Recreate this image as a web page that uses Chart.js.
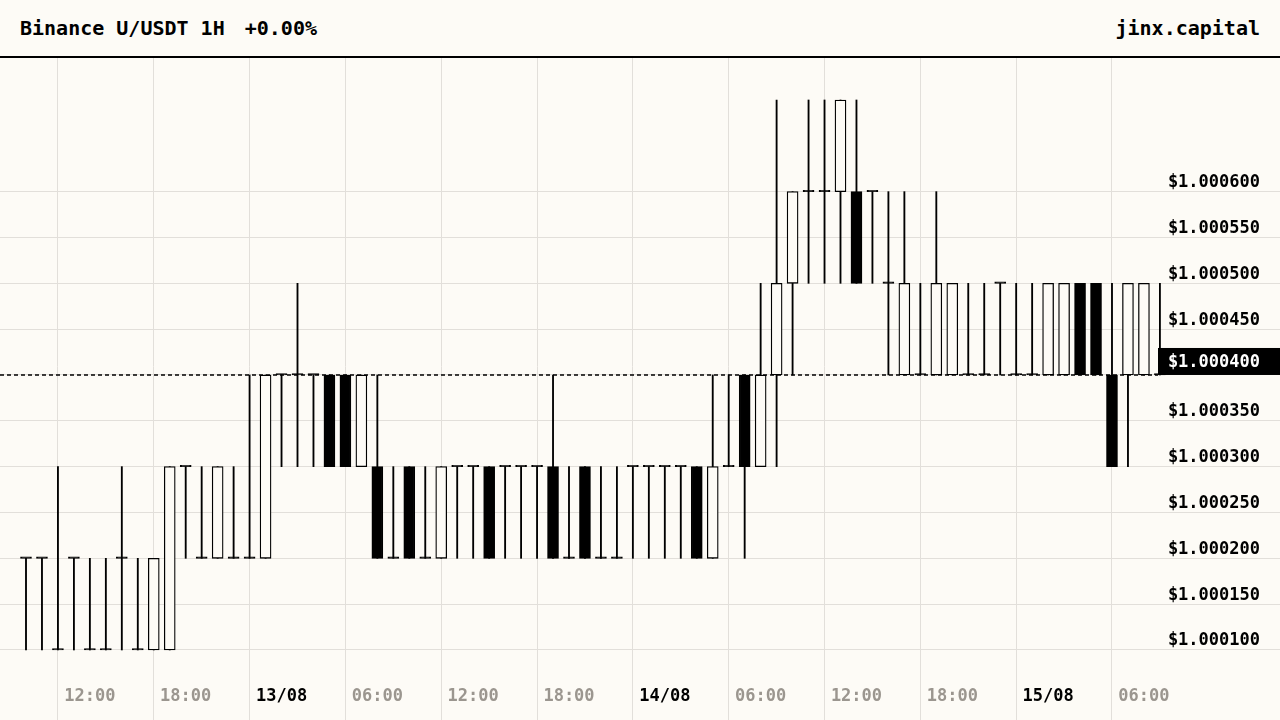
<!DOCTYPE html>
<html>
<head>
<meta charset="utf-8">
<title>Binance U/USDT 1H</title>
<script src="https://cdn.jsdelivr.net/npm/chart.js@4.4.1/dist/chart.umd.min.js"></script>
<style>
  html, body { margin: 0; padding: 0; background: #fdfbf6; }
  body { width: 1280px; height: 720px; overflow: hidden; font-family: 'DejaVu Sans Mono', monospace; }
  .header {
    height: 56px; border-bottom: 2px solid #000; padding: 0 20px;
    display: flex; align-items: center; justify-content: space-between;
    font-size: 20px; font-weight: bold; color: #000; white-space: pre;
  }
  .header .change { margin-left: 8px; }
  .chart-box { position: relative; width: 1280px; height: 662px; }
</style>
</head>
<body>
<div class="header"><span>Binance U/USDT 1H <span class="change">+0.00%</span></span><span>jinx.capital</span></div>
<div class="chart-box"><canvas id="chart"></canvas></div>
<script>
// hourly candles, 12/08 08:00 -> 15/08 07:00
const times = [
  '12/08 08:00', '12/08 09:00', '12/08 10:00', '12/08 11:00', '12/08 12:00', '12/08 13:00', '12/08 14:00', '12/08 15:00',
  '12/08 16:00', '12/08 17:00', '12/08 18:00', '12/08 19:00', '12/08 20:00', '12/08 21:00', '12/08 22:00', '12/08 23:00',
  '13/08 00:00', '13/08 01:00', '13/08 02:00', '13/08 03:00', '13/08 04:00', '13/08 05:00', '13/08 06:00', '13/08 07:00',
  '13/08 08:00', '13/08 09:00', '13/08 10:00', '13/08 11:00', '13/08 12:00', '13/08 13:00', '13/08 14:00', '13/08 15:00',
  '13/08 16:00', '13/08 17:00', '13/08 18:00', '13/08 19:00', '13/08 20:00', '13/08 21:00', '13/08 22:00', '13/08 23:00',
  '14/08 00:00', '14/08 01:00', '14/08 02:00', '14/08 03:00', '14/08 04:00', '14/08 05:00', '14/08 06:00', '14/08 07:00',
  '14/08 08:00', '14/08 09:00', '14/08 10:00', '14/08 11:00', '14/08 12:00', '14/08 13:00', '14/08 14:00', '14/08 15:00',
  '14/08 16:00', '14/08 17:00', '14/08 18:00', '14/08 19:00', '14/08 20:00', '14/08 21:00', '14/08 22:00', '14/08 23:00',
  '15/08 00:00', '15/08 01:00', '15/08 02:00', '15/08 03:00', '15/08 04:00', '15/08 05:00', '15/08 06:00', '15/08 07:00'
];

const open = [
  1.0002, 1.0002, 1.0001, 1.0002, 1.0001, 1.0001, 1.0002, 1.0001, 1.0001, 1.0001, 1.0003, 1.0002,
  1.0002, 1.0002, 1.0002, 1.0002, 1.0004, 1.0004, 1.0004, 1.0004, 1.0004, 1.0003, 1.0003, 1.0002,
  1.0003, 1.0002, 1.0002, 1.0003, 1.0003, 1.0003, 1.0003, 1.0003, 1.0003, 1.0003, 1.0002, 1.0003,
  1.0002, 1.0002, 1.0003, 1.0003, 1.0003, 1.0003, 1.0003, 1.0002, 1.0003, 1.0004, 1.0003, 1.0004,
  1.0005, 1.0006, 1.0006, 1.0006, 1.0006, 1.0006, 1.0005, 1.0004, 1.0004, 1.0004, 1.0004, 1.0004,
  1.0004, 1.0005, 1.0004, 1.0004, 1.0004, 1.0004, 1.0005, 1.0005, 1.0004, 1.0004, 1.0004, 1.0004
];
const high = [
  1.0002, 1.0002, 1.0003, 1.0002, 1.0002, 1.0002, 1.0003, 1.0002, 1.0002, 1.0003, 1.0003, 1.0003,
  1.0003, 1.0003, 1.0004, 1.0004, 1.0004, 1.0005, 1.0004, 1.0004, 1.0004, 1.0004, 1.0004, 1.0003,
  1.0003, 1.0003, 1.0003, 1.0003, 1.0003, 1.0003, 1.0003, 1.0003, 1.0003, 1.0004, 1.0003, 1.0003,
  1.0003, 1.0003, 1.0003, 1.0003, 1.0003, 1.0003, 1.0003, 1.0004, 1.0004, 1.0004, 1.0005, 1.0007,
  1.0006, 1.0007, 1.0007, 1.0007, 1.0007, 1.0006, 1.0006, 1.0006, 1.0005, 1.0006, 1.0005, 1.0005,
  1.0005, 1.0005, 1.0005, 1.0005, 1.0005, 1.0005, 1.0005, 1.0005, 1.0005, 1.0005, 1.0005, 1.0005
];
const low = [
  1.0001, 1.0001, 1.0001, 1.0001, 1.0001, 1.0001, 1.0001, 1.0001, 1.0001, 1.0001, 1.0002, 1.0002,
  1.0002, 1.0002, 1.0002, 1.0002, 1.0003, 1.0003, 1.0003, 1.0003, 1.0003, 1.0003, 1.0002, 1.0002,
  1.0002, 1.0002, 1.0002, 1.0002, 1.0002, 1.0002, 1.0002, 1.0002, 1.0002, 1.0002, 1.0002, 1.0002,
  1.0002, 1.0002, 1.0002, 1.0002, 1.0002, 1.0002, 1.0002, 1.0002, 1.0003, 1.0002, 1.0003, 1.0003,
  1.0004, 1.0005, 1.0005, 1.0005, 1.0005, 1.0005, 1.0004, 1.0004, 1.0004, 1.0004, 1.0004, 1.0004,
  1.0004, 1.0004, 1.0004, 1.0004, 1.0004, 1.0004, 1.0004, 1.0004, 1.0003, 1.0003, 1.0004, 1.0004
];
const close = [
  1.0002, 1.0002, 1.0001, 1.0002, 1.0001, 1.0001, 1.0002, 1.0001, 1.0002, 1.0003, 1.0003, 1.0002,
  1.0003, 1.0002, 1.0002, 1.0004, 1.0004, 1.0004, 1.0004, 1.0003, 1.0003, 1.0004, 1.0002, 1.0002,
  1.0002, 1.0002, 1.0003, 1.0003, 1.0003, 1.0002, 1.0003, 1.0003, 1.0003, 1.0002, 1.0002, 1.0002,
  1.0002, 1.0002, 1.0003, 1.0003, 1.0003, 1.0003, 1.0002, 1.0003, 1.0003, 1.0003, 1.0004, 1.0005,
  1.0006, 1.0006, 1.0006, 1.0007, 1.0005, 1.0006, 1.0005, 1.0005, 1.0004, 1.0005, 1.0005, 1.0004,
  1.0004, 1.0005, 1.0004, 1.0004, 1.0005, 1.0005, 1.0004, 1.0004, 1.0003, 1.0005, 1.0005, 1.0004
];

const yTicks = [1.0001, 1.00015, 1.0002, 1.00025, 1.0003, 1.00035, 1.0004, 1.00045, 1.0005, 1.00055, 1.0006];
const timeTicks = ['06:00', '12:00', '18:00'];

const BG = '#fdfbf6';
const GRID = '#e2dfda';
const MUTED = '#9b968f';
const FONT = 'DejaVu Sans Mono';

Chart.defaults.font.family = FONT;

function fmtPrice(v) {
    return '$' + v.toFixed(6);
}

// 00:00 shows the date, 06/12/18 show the hour, the rest stay blank
function xLabel(i) {
    const t = times[i];
    if (!t) return '';
    const hour = t.slice(6);
    if (hour === '00:00') return t.slice(0, 5);
    return timeTicks.includes(hour) ? hour : '';
}

const bodyData = times.map((t, i) => ({ x: i, y: [open[i], close[i]] }));
const wickData = times.map((t, i) => ({ x: i, y: [low[i], high[i]] }));

const lastPriceTag = {
    id: 'lastPriceTag',
    beforeDatasetsDraw(chart) {
        const { ctx, chartArea, scales } = chart;
        const py = scales.y.getPixelForValue(close[close.length - 1]);
        ctx.save();
        ctx.strokeStyle = '#000';
        ctx.lineWidth = 1.3;
        ctx.setLineDash([4, 3]);
        ctx.beginPath();
        ctx.moveTo(chartArea.left, py);
        ctx.lineTo(chartArea.right - 122, py);
        ctx.stroke();
        ctx.restore();
    },
    afterDatasetsDraw(chart) {
        const { ctx, chartArea, scales } = chart;
        const last = close[close.length - 1];
        const py = scales.y.getPixelForValue(last);
        ctx.save();
        ctx.fillStyle = '#000';
        ctx.fillRect(chartArea.right - 122, py - 27, 122, 27);
        ctx.fillStyle = '#fff';
        ctx.font = 'bold 17px ' + FONT;
        ctx.textAlign = 'right';
        ctx.textBaseline = 'middle';
        ctx.fillText(fmtPrice(last), chartArea.right - 20, py - 12);
        ctx.restore();
    }
};

new Chart(document.getElementById('chart'), {
    type: 'bar',
    data: {
        datasets: [
            {
                label: 'body',
                data: bodyData,
                grouped: false,
                barThickness: 11,
                minBarLength: 1.4,
                borderWidth: 1.3,
                borderSkipped: false,
                borderColor: '#000',
                backgroundColor: ctx => close[ctx.dataIndex] > open[ctx.dataIndex] ? BG : '#000'
            },
            {
                label: 'wick',
                data: wickData,
                grouped: false,
                barThickness: 1.2,
                borderWidth: 0,
                backgroundColor: '#000'
            }
        ]
    },
    options: {
        responsive: true,
        maintainAspectRatio: false,
        animation: false,
        events: [],
        layout: { padding: 0 },
        plugins: { legend: { display: false }, tooltip: { enabled: false } },
        scales: {
            x: {
                type: 'linear',
                bounds: 'data',
                offset: false,
                min: -1.628,
                max: 78.52,
                afterBuildTicks: s => { s.ticks = times.map((t, i) => ({ value: i })); },
                afterFit: s => { s.height = 45; },
                border: { display: false },
                grid: {
                    offset: false,
                    color: ctx => ctx.index % 6 === 2 ? GRID : 'rgba(0,0,0,0)',
                    lineWidth: 1,
                    drawTicks: true,
                    tickLength: 45
                },
                ticks: {
                    autoSkip: false,
                    maxRotation: 0,
                    padding: -34,
                    font: { size: 17, weight: 'bold' },
                    color: ctx => xLabel(ctx.index).includes('/') ? '#000' : MUTED,
                    callback: v => xLabel(v)
                }
            },
            y: {
                type: 'linear',
                position: 'right',
                bounds: 'data',
                min: 1.0000727,
                max: 1.0007458,
                afterBuildTicks: s => { s.ticks = yTicks.map(v => ({ value: v })); },
                afterFit: s => { s.width = 0; },
                border: { display: false },
                grid: { color: GRID, lineWidth: 1, drawTicks: false },
                ticks: {
                    mirror: true,
                    padding: -20,
                    labelOffset: -9,
                    font: { size: 17, weight: 'bold' },
                    color: '#000',
                    callback: v => fmtPrice(v)
                }
            }
        }
    },
    plugins: [lastPriceTag]
});
</script>
</body>
</html>
